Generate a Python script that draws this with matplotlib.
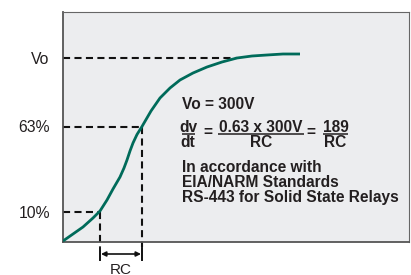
import matplotlib
matplotlib.use("Agg")
import matplotlib.pyplot as plt

# curve (time, voltage level in arbitrary units)
t_curve = [0, 5, 10, 15, 20, 25, 30, 37, 44, 50, 57, 61, 64, 67, 70, 74, 79, 88, 97, 107, 117, 130, 144, 159, 174, 189, 204, 220, 237]
v_curve = [1, 4.5, 8, 11.5, 15, 19.5, 24, 31, 42, 53, 65, 74, 82, 91, 99, 107.5, 115.5, 131, 144, 154, 162, 169, 175, 180, 184, 186, 187, 188, 188]

levels = [30, 115.5, 184]
level_labels = ["10%", "63%", "Vo"]
t10 = 37
t63 = 79
t_vo = 174

note_lines = ["In accordance with", "EIA/NARM Standards", "RS-443 for Solid State Relays"]

plt.rcParams['font.family'] = ['Liberation Sans', 'DejaVu Sans']
TXT = "#231f20"

fig = plt.figure(figsize=(4.11, 2.75), dpi=100)
ax = fig.add_axes([63 / 411, 33 / 275, 346 / 411, 230 / 275])
ax.set_facecolor("#ecedef")
ax.set_xlim(0, 346)
ax.set_ylim(0, 230)

ax.plot(t_curve, v_curve, color="#006b5a", lw=2.0, solid_capstyle="butt", solid_joinstyle="round", zorder=3)

dash = dict(color="#111111", lw=1.5, dashes=(3.4, 2.1), zorder=2, clip_on=False)
ax.plot([0, t_vo], [levels[2], levels[2]], **dash)
ax.plot([0, t63], [levels[1], levels[1]], **dash)
ax.plot([0, t10], [levels[0], levels[0]], **dash)
ax.plot([t10, t10], [levels[0], -5], **dash)
ax.plot([t63, t63], [levels[1], -5], **dash)

# RC bracket below the axis
for tx in (t10, t63):
    ax.plot([tx, tx], [-6, -18], color="#111111", lw=1.4, clip_on=False)
ax.annotate("", xy=(t10 + 1, -12), xytext=(t63 - 1, -12), annotation_clip=False,
            arrowprops=dict(arrowstyle="<|-|>", color="#111111", lw=1.2,
                            mutation_scale=7, shrinkA=0, shrinkB=0))
ax.text((t10 + t63) / 2, -20.5, "RC", ha="center", va="top", fontsize=11, color=TXT)

ax.set_xticks([])
ax.set_yticks(levels)
ax.set_yticklabels(level_labels, fontsize=11.3, color=TXT)
ax.tick_params(axis="y", length=0, pad=9.5)

for s in ("left", "bottom"):
    ax.spines[s].set_color("#555555")
    ax.spines[s].set_linewidth(1.3)
for s in ("top", "right"):
    ax.spines[s].set_color("#666666")
    ax.spines[s].set_linewidth(0.8)

# annotation text (pixel-like offsets inside the axes)
bold = dict(fontsize=11.2, fontweight="bold", color=TXT, va="baseline")
ax.text(118.5, 242 - 109, "Vo = 300V", ha="left", **bold)
ax.text(125, 242 - 131.7, "dv", ha="center", **bold)
ax.text(125, 242 - 147.3, "dt", ha="center", **bold)
ax.text(144.5, 242 - 137.5, "=", ha="center", **bold)
ax.text(198, 242 - 131.7, "0.63 x 300V", ha="center", **bold)
ax.text(198, 242 - 147.3, "RC", ha="center", **bold)
ax.text(248, 242 - 137.5, "=", ha="center", **bold)
ax.text(272.5, 242 - 131.7, "189", ha="center", **bold)
ax.text(272.5, 242 - 147.3, "RC", ha="center", **bold)
bar = dict(color=TXT, lw=1.1, solid_capstyle="butt")
ax.plot([118.5, 132], [242 - 133.6, 242 - 133.6], **bar)
ax.plot([155, 241], [242 - 133.6, 242 - 133.6], **bar)
ax.plot([260, 285], [242 - 133.6, 242 - 133.6], **bar)
for i, line in enumerate(note_lines):
    ax.text(118.5, 242 - (171.7 + 15.2 * i), line, ha="left", **bold)

fig.savefig("out.png", dpi=100)
